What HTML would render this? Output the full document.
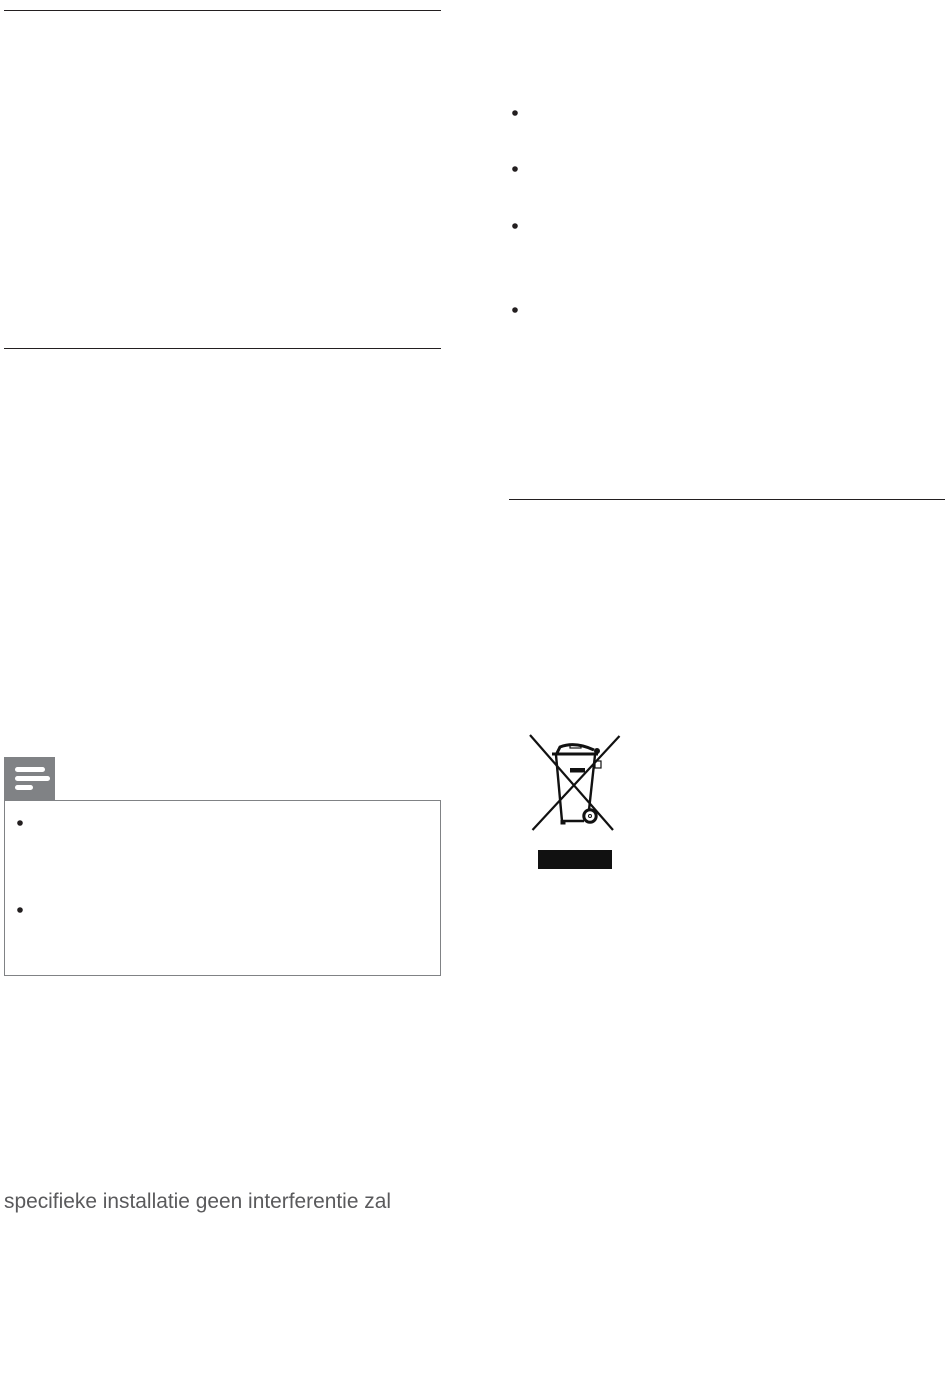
<!DOCTYPE html>
<html>
<head>
<meta charset="utf-8">
<style>
html,body{margin:0;padding:0;background:#fff;width:950px;height:1398px;overflow:hidden}
svg{display:block}
</style>
</head>
<body>
<svg width="950" height="1398" viewBox="0 0 950 1398" xmlns="http://www.w3.org/2000/svg">
<rect width="950" height="1398" fill="#fff"/>
<g stroke="#231f20" stroke-width="1" fill="none">
<line x1="4" y1="10.5" x2="441" y2="10.5"/>
<line x1="4" y1="348.5" x2="441" y2="348.5"/>
<line x1="509" y1="499.5" x2="945" y2="499.5"/>
</g>
<g fill="#231f20">
<circle cx="515" cy="113" r="2.8"/>
<circle cx="515" cy="169" r="2.8"/>
<circle cx="515" cy="226" r="2.8"/>
<circle cx="515" cy="310" r="2.8"/>
<circle cx="20" cy="823" r="2.8"/>
<circle cx="20" cy="910" r="2.8"/>
</g>
<rect x="4.5" y="800.5" width="436" height="175" fill="none" stroke="#808285" stroke-width="1"/>
<rect x="4" y="757" width="51" height="43.500" fill="#808285"/>
<g fill="#fff">
<rect x="15" y="767" width="30" height="5" rx="2.500"/>
<rect x="15" y="776" width="35" height="5" rx="2.500"/>
<rect x="15" y="785" width="18" height="5" rx="2.500"/>
</g>
<g stroke="#111" fill="none">
<line x1="530" y1="735" x2="613" y2="830" stroke-width="2.200"/>
<line x1="619.500" y1="736" x2="532.500" y2="830" stroke-width="2.200"/>
<line x1="552" y1="754" x2="598" y2="754" stroke-width="3"/>
<path d="M556 755 L562 821 L584 821" stroke-width="2.400"/>
<line x1="595" y1="755" x2="589" y2="810" stroke-width="2.400"/>
<path d="M557 753 L560 747 Q575 741 594 750" stroke-width="3"/>
<rect x="570" y="745" width="11" height="3" stroke-width="1.200"/>
<rect x="595" y="761" width="6" height="7" stroke-width="1.200"/>
<circle cx="590" cy="816" r="6.200" stroke-width="3"/>
<circle cx="590" cy="816" r="1.500" stroke-width="1"/>
</g>
<g fill="#111">
<rect x="570" y="768" width="15" height="4.500"/>
<rect x="560.500" y="820" width="5" height="4.500"/>
<circle cx="597" cy="751" r="3"/>
<rect x="538" y="850" width="74" height="19"/>
</g>
<text x="4" y="1208" font-family="'Liberation Sans',sans-serif" font-size="21" fill="#5a5a5c" textLength="387" lengthAdjust="spacingAndGlyphs">specifieke installatie geen interferentie zal</text>
</svg>
</body>
</html>
